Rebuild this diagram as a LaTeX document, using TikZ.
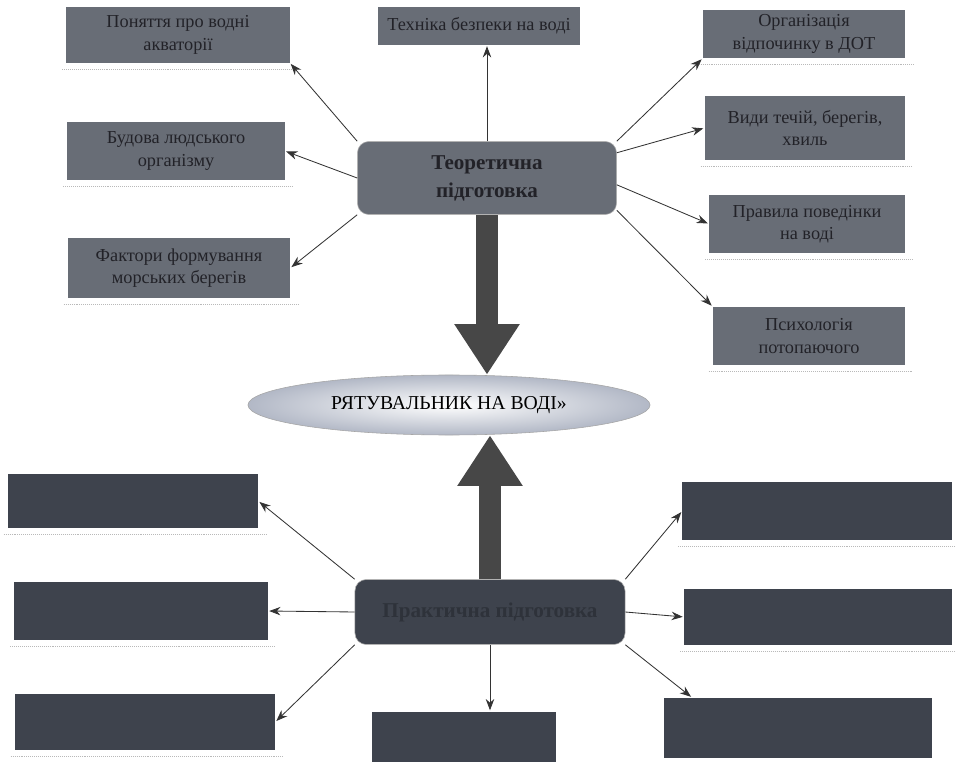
\documentclass[tikz,border=0pt]{standalone}
\usepackage{fontspec}
\setmainfont{Liberation Serif}
\usetikzlibrary{positioning, calc, shapes.geometric}
\usetikzlibrary{arrows.meta}
\definecolor{boxgray}{RGB}{104,109,118}
\definecolor{darkbox}{RGB}{62,67,77}
\definecolor{inkgray}{RGB}{34,34,40}
\definecolor{ovalrim}{RGB}{178,184,198}
\tikzstyle{topbox}=[rectangle,fill=boxgray,text=inkgray,align=center,
  font=\fontsize{13}{16}\selectfont,inner sep=2pt]
\tikzstyle{lowbox}=[rectangle,fill=darkbox,text=darkbox!80!black,align=center,
  font=\fontsize{12}{15}\selectfont,inner sep=2pt]
\tikzstyle{mainbox}=[rectangle,rounded corners=8pt,fill=boxgray,text=inkgray,
  align=center,font=\fontsize{15}{20}\selectfont\bfseries,draw=gray!60,thin]
\tikzstyle{edgepath} = [-{Stealth[length=8pt,width=6pt]},semithick,color=black!80,
  shorten >=1pt]
\tikzstyle{bigarrow} = [line width=15pt,draw=black!72,
  -{Triangle[length=36pt,width=44pt]}]
\tikzstyle{rule} = [gray!55,densely dotted,thin]

\begin{document}
\begin{tikzpicture}[x=0.025cm,y=-0.025cm]
        \useasboundingbox (0,0) rectangle (956,781);
        % centre
        \node[draw=gray!70,ellipse,inner color=white,outer color=ovalrim,
              minimum width=10.05cm,minimum height=1.5cm,
              font=\fontsize{14}{16}\selectfont] (ryat) at (449,405) {РЯТУВАЛЬНИК НА ВОДІ»};
        \node[mainbox,minimum width=6.475cm,minimum height=1.825cm] (teor) at (487,178) {Теоретична\\підготовка};
        \node[mainbox,fill=darkbox,text=darkbox!75!black,minimum width=6.75cm,minimum height=1.625cm] (prak) at (490,612) {Практична підготовка};

        % theory boxes
        \node[topbox,minimum width=5.575cm,minimum height=1.375cm] (t1) at (178,35) {Поняття про водні\\акваторії};
        \node[topbox,minimum width=5.05cm,minimum height=0.925cm] (t2) at (479,26) {Техніка безпеки на воді};
        \node[topbox,minimum width=5.05cm,minimum height=1.2cm] (t3) at (804,34) {Організація\\відпочинку в ДОТ};
        \node[topbox,minimum width=5.425cm,minimum height=1.45cm] (l2) at (176,151) {Будова людського\\організму};
        \node[topbox,minimum width=5cm,minimum height=1.575cm] (r2) at (805,128) {Види течій, берегів,\\хвиль};
        \node[topbox,minimum width=4.875cm,minimum height=1.45cm] (r3) at (807,224) {Правила поведінки\\на воді};
        \node[topbox,minimum width=5.55cm,minimum height=1.5cm] (l3) at (179,268) {Фактори формування\\морських берегів};
        \node[topbox,minimum width=4.8cm,minimum height=1.45cm] (r4) at (809,336) {Психологія\\потопаючого};

        % practice boxes
        \node[lowbox,minimum width=6.25cm,minimum height=1.325cm] (b1) at (133,501) {};
        \node[lowbox,minimum width=6.325cm,minimum height=1.45cm] (b2) at (141,611) {};
        \node[lowbox,minimum width=6.5cm,minimum height=1.375cm] (b3) at (145,722) {};
        \node[lowbox,minimum width=4.6cm,minimum height=1.25cm] (b4) at (464,737) {};
        \node[lowbox,minimum width=6.725cm,minimum height=1.425cm] (b5) at (817,511) {};
        \node[lowbox,minimum width=6.675cm,minimum height=1.375cm] (b6) at (818,617) {};
        \node[lowbox,minimum width=6.675cm,minimum height=1.5cm] (b7) at (798,728) {};

        % page rules under the boxes
        \foreach \n in {t1,t3,l2,r2,r3,l3,r4,b1,b2,b3,b5,b6}
            \draw[rule] ($(\n.south west)+(-4,6)$) -- ($(\n.south east)+(8,6)$);

        \draw[bigarrow] (teor.south) -- (teor.south |- ryat.north);
        \draw[bigarrow] (prak.north) -- (prak.north |- ryat.south);

        \path[edgepath]
            (teor.north west) edge (t1.south east)
            (teor.north) edge (teor.north |- t2.south)
            (teor.north east) edge (t3.south west)
            (teor.west) edge (l2.east)
            (teor.south west) edge (l3.east)
            (teor.11) edge (r2.west)
            (teor.-3) edge (r3.west)
            (teor.-14) edge (r4.north west);

        \path[edgepath]
            (prak.north west) edge (b1.east)
            (prak.west) edge (b2.east)
            (prak.south west) edge (b3.east)
            (prak.south) edge (prak.south |- b4.north)
            (prak.north east) edge (b5.west)
            (prak.east) edge (b6.west)
            (prak.south east) edge ($(b7.north west)+(28,0)$);
    \end{tikzpicture}
\end{document}
